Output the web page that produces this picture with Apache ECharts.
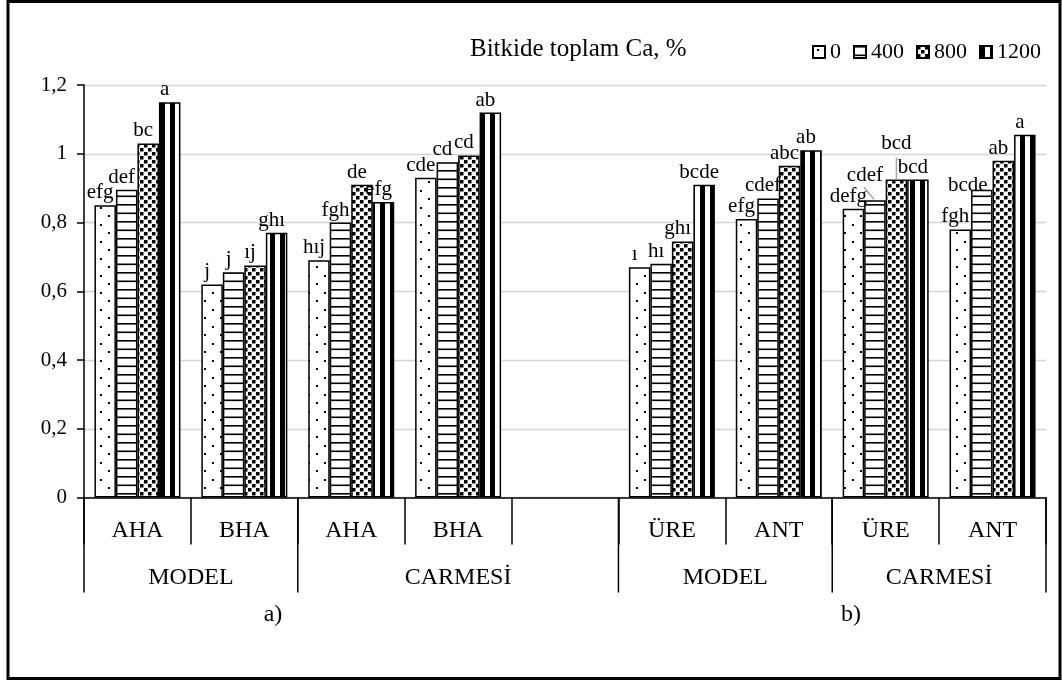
<!DOCTYPE html>
<html>
<head>
<meta charset="utf-8">
<script src="https://cdn.jsdelivr.net/npm/echarts@6/dist/echarts.min.js"></script>
<style>
html,body{margin:0;padding:0;background:#fff;}
#c{width:1062px;height:681px;}
</style>
</head>
<body>
<div id="c"></div>
<script>
// ---------- DATA ----------
const categories = ['AHA', 'BHA', 'AHA', 'BHA', '', 'ÜRE', 'ANT', 'ÜRE', 'ANT'];
const groupNames = ['MODEL', 'CARMESİ', 'MODEL', 'CARMESİ'];
const groupSpans = [[0, 2], [2, 5], [5, 7], [7, 9]]; // category index ranges
const panelNames = ['a)', 'b)'];
const seriesNames = ['0', '400', '800', '1200'];
const titleText = 'Bitkide toplam Ca, %';
const yTicks = [0, 0.2, 0.4, 0.6, 0.8, 1, 1.2];

const s0    = [0.85, 0.62, 0.69, 0.93, null, 0.67, 0.81, 0.84, 0.78];
const s400  = [0.895, 0.655, 0.80, 0.975, null, 0.68, 0.87, 0.865, 0.895];
const s800  = [1.03, 0.675, 0.91, 0.995, null, 0.745, 0.965, 0.925, 0.98];
const s1200 = [1.15, 0.77, 0.86, 1.12, null, 0.91, 1.01, 0.925, 1.055];

const l0    = ['efg', 'j', 'hıj', 'cde', '', 'ı', 'efg', 'defg', 'fgh'];
const l400  = ['def', 'j', 'fgh', 'cd', '', 'hı', 'cdef', 'cdef', 'bcde'];
const l800  = ['bc', 'ıj', 'de', 'cd', '', 'ghı', 'abc', 'bcd', 'ab'];
const l1200 = ['a', 'ghı', 'efg', 'ab', '', 'bcde', 'ab', 'bcd', 'a'];

const values = [s0, s400, s800, s1200];
const letters = [l0, l400, l800, l1200];

// ---------- PATTERNS ----------
function tile(w, h, draw) {
  const c = document.createElement('canvas');
  c.width = w; c.height = h;
  const ctx = c.getContext('2d');
  ctx.fillStyle = '#fff';
  ctx.fillRect(0, 0, w, h);
  ctx.fillStyle = '#000';
  draw(ctx);
  return c;
}
const patDots = tile(16, 17, ctx => { ctx.fillRect(4, 3, 2, 2); ctx.fillRect(12, 11, 2, 2); });
const patHLines = tile(4, 17, ctx => { ctx.fillRect(0, 0, 4, 1.6); ctx.fillRect(0, 8.5, 4, 1.6); });
const patChecks = tile(8, 8, ctx => { ctx.fillRect(0, 0, 3.5, 3.5); ctx.fillRect(4, 4, 3.5, 3.5); });
const patVLines = tile(10, 4, ctx => { ctx.fillRect(0, 0, 5, 4); });
const patterns = [patDots, patHLines, patChecks, patVLines];

// ---------- CHART ----------
const FONT = 'Liberation Serif';
const chart = echarts.init(document.getElementById('c'), null, { renderer: 'canvas' });

// labels that were moved by hand in the reference: "series-dataIndex" -> label offset
const movedLabels = {
  '2-7': [0, -24],
  '1-7': [-10, -12],
  '1-8': [-14, 8]
};

const series = seriesNames.map((name, si) => ({
  name: name,
  type: 'bar',
  barWidth: 21.5,
  barGap: '0%',
  data: values[si].map((v, i) => {
    const item = { value: v };
    const m = movedLabels[si + '-' + i];
    if (m) item.label = { offset: m };
    return item;
  }),
  itemStyle: {
    color: { image: patterns[si], repeat: 'repeat' },
    borderColor: '#000',
    borderWidth: 1.5
  },
  label: {
    show: true,
    position: 'top',
    distance: 2,
    offset: [-5, 0],
    color: '#000',
    fontFamily: FONT,
    fontSize: 21,
    formatter: p => letters[si][p.dataIndex]
  },
  emphasis: { disabled: true }
}));

chart.setOption({
  animation: false,
  backgroundColor: '#fff',
  title: {
    text: titleText,
    left: 465, top: 32,
    textStyle: { fontFamily: FONT, fontSize: 25, fontWeight: 'normal', color: '#000' }
  },
  legend: {
    data: seriesNames,
    right: 16, top: 36,
    icon: 'rect',
    itemWidth: 12, itemHeight: 12, itemGap: 12,
    textStyle: { fontFamily: FONT, fontSize: 22, color: '#000' }
  },
  grid: { left: 84, top: 85, width: 962, height: 412.5 },
  xAxis: {
    type: 'category',
    data: categories,
    axisLine: { lineStyle: { color: '#000', width: 1.5 } },
    axisTick: { show: true, interval: 0, length: 47, lineStyle: { color: '#000', width: 1.5 } },
    axisLabel: { interval: 0, margin: 21, fontFamily: FONT, fontSize: 24, color: '#000' },
    splitLine: { show: false }
  },
  yAxis: {
    type: 'value',
    min: 0, max: 1.2, interval: 0.2,
    axisLine: { show: true, lineStyle: { color: '#000', width: 1.5 } },
    axisTick: { show: true, length: 7, lineStyle: { color: '#000', width: 1.5 } },
    axisLabel: {
      margin: 17, fontFamily: FONT, fontSize: 21, color: '#000',
      formatter: v => yTicks.includes(v) ? String(v).replace('.', ',') : ''
    },
    splitLine: { lineStyle: { color: '#d4d4d4', width: 1.3 } }
  },
  series: series
});

// ---------- multi-level category axis, leader lines & frame ----------
const c0 = chart.convertToPixel({ xAxisIndex: 0 }, 0);
const c1 = chart.convertToPixel({ xAxisIndex: 0 }, 1);
const bw = c1 - c0;
const bx = k => c0 - bw / 2 + k * bw;
const y0 = chart.convertToPixel({ yAxisIndex: 0 }, 0);

const graphics = [];
const tallIdx = new Set();
groupSpans.forEach(s => { tallIdx.add(s[0]); tallIdx.add(s[1]); });
tallIdx.forEach(k => {
  graphics.push({
    type: 'line',
    shape: { x1: bx(k), y1: y0, x2: bx(k), y2: y0 + 95 },
    style: { stroke: '#000', lineWidth: 1.5 }
  });
});
groupSpans.forEach((s, gi) => {
  graphics.push({
    type: 'text',
    x: (bx(s[0]) + bx(s[1])) / 2, y: y0 + 80,
    style: { text: groupNames[gi], fill: '#000', font: '24px "' + FONT + '"', align: 'center', verticalAlign: 'middle' }
  });
});
graphics.push({
  type: 'text', x: 273, y: 615,
  style: { text: panelNames[0], fill: '#000', font: '24px "' + FONT + '"', align: 'center', verticalAlign: 'middle' }
});
graphics.push({
  type: 'text', x: 851, y: 615,
  style: { text: panelNames[1], fill: '#000', font: '24px "' + FONT + '"', align: 'center', verticalAlign: 'middle' }
});

// leader lines of the hand-moved labels, anchored on the bars' own layouts
function barTop(si, di) {
  const lay = chart.getModel().getSeriesByIndex(si).getData().getItemLayout(di);
  return { x: lay.x + lay.width / 2, y: Math.min(lay.y, lay.y + lay.height) };
}
const t1 = barTop(2, 7);
graphics.push({
  type: 'line', z: 100,
  shape: { x1: t1.x, y1: t1.y, x2: t1.x, y2: t1.y - 22 },
  style: { stroke: '#a6a6a6', lineWidth: 1.5 }
});
const t2 = barTop(1, 7);
graphics.push({
  type: 'line', z: 100,
  shape: { x1: t2.x - 1, y1: t2.y - 1, x2: t2.x - 11, y2: t2.y - 13 },
  style: { stroke: '#a6a6a6', lineWidth: 1.5 }
});

graphics.push({
  type: 'rect',
  shape: { x: 8, y: 1.5, width: 1052, height: 677 },
  style: { fill: 'none', stroke: '#000', lineWidth: 3 }
});
chart.setOption({ graphic: graphics });
</script>
</body>
</html>
